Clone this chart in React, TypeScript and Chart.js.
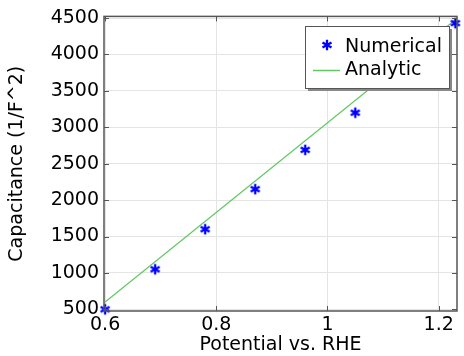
import React, { useEffect, useRef } from "react";
import { Chart, registerables } from "chart.js";

Chart.register(...registerables);

const numericalX = [0.6, 0.69, 0.78, 0.87, 0.96, 1.05, 1.23];
const numericalY = [500, 1050, 1600, 2150, 2690, 3200, 4430];
const analyticX = [0.6, 1.23];
const analyticY = [600, 4476];
const xTicks = [0.6, 0.8, 1.0, 1.2];
const yTicks = [500, 1000, 1500, 2000, 2500, 3000, 3500, 4000, 4500];
const seriesNames = ["Numerical", "Analytic"];
const xTitle = "Potential vs. RHE";
const yTitle = "Capacitance (1/F^2)";

const FONT = "'DejaVu Sans', sans-serif";
const BLUE = "#0000ff";
const GREEN = "#62c862";

function drawAsterisk(ctx: CanvasRenderingContext2D, cx: number, cy: number, r: number) {
  ctx.beginPath();
  for (let i = 0; i < 3; i++) {
    const ang = Math.PI / 2 + (i * Math.PI) / 3;
    ctx.moveTo(cx - r * Math.cos(ang), cy - r * Math.sin(ang));
    ctx.lineTo(cx + r * Math.cos(ang), cy + r * Math.sin(ang));
  }
  ctx.stroke();
}

function makeAsteriskImage() {
  const c = document.createElement("canvas");
  c.width = 14;
  c.height = 14;
  const ctx = c.getContext("2d")!;
  ctx.strokeStyle = BLUE;
  ctx.lineWidth = 2.3;
  ctx.lineCap = "butt";
  drawAsterisk(ctx, 7, 7, 5.2);
  return c;
}

const framePlugin = {
  id: "frameAndLegend",
  afterDraw(chart: any) {
    const { ctx, chartArea: a, scales } = chart;
    ctx.save();
    ctx.strokeStyle = "#555555";
    ctx.lineWidth = 1.5;
    ctx.strokeRect(a.left, a.top, a.right - a.left, a.bottom - a.top);
    ctx.lineWidth = 1;
    ctx.beginPath();
    for (const v of xTicks) {
      const px = Math.round(scales.x.getPixelForValue(v)) + 0.5;
      ctx.moveTo(px, a.bottom);
      ctx.lineTo(px, a.bottom - 5);
      ctx.moveTo(px, a.top);
      ctx.lineTo(px, a.top + 5);
    }
    for (const v of yTicks) {
      const py = Math.round(scales.y.getPixelForValue(v)) + 0.5;
      ctx.moveTo(a.left, py);
      ctx.lineTo(a.left + 5, py);
      ctx.moveTo(a.right, py);
      ctx.lineTo(a.right - 5, py);
    }
    ctx.stroke();

    // legend
    const bx = 305, by = 26, bw = 144, bh = 62;
    ctx.fillStyle = "#888888";
    ctx.fillRect(bx + 3, by + 3, bw, bh);
    ctx.fillStyle = "#ffffff";
    ctx.fillRect(bx, by, bw, bh);
    ctx.strokeStyle = "#555555";
    ctx.lineWidth = 1;
    ctx.strokeRect(bx + 0.5, by + 0.5, bw, bh);

    ctx.strokeStyle = BLUE;
    ctx.lineWidth = 2.3;
    drawAsterisk(ctx, 327, 45, 5.2);

    ctx.strokeStyle = GREEN;
    ctx.lineWidth = 1.5;
    ctx.beginPath();
    ctx.moveTo(313, 70.5);
    ctx.lineTo(340, 70.5);
    ctx.stroke();

    ctx.fillStyle = "#000000";
    ctx.font = `19px ${FONT}`;
    ctx.textBaseline = "middle";
    ctx.textAlign = "left";
    ctx.fillText(seriesNames[0], 345, 47);
    ctx.fillText(seriesNames[1], 345, 70);
    ctx.restore();
  },
};

export default function App() {
  const ref = useRef<HTMLCanvasElement>(null);
  useEffect(() => {
    document.body.style.margin = "0";
    const star = makeAsteriskImage();
    const chart = new Chart(ref.current!, {
      type: "scatter",
      data: {
        datasets: [
          {
            label: seriesNames[1],
            data: analyticX.map((x, i) => ({ x, y: analyticY[i] })),
            showLine: true,
            borderColor: GREEN,
            backgroundColor: GREEN,
            borderWidth: 1.2,
            pointRadius: 0,
            order: 2,
          },
          {
            label: seriesNames[0],
            data: numericalX.map((x, i) => ({ x, y: numericalY[i] })),
            pointStyle: star as any,
            pointRadius: 6,
            borderColor: BLUE,
            backgroundColor: BLUE,
            clip: false as any,
            order: 1,
          },
        ],
      },
      options: {
        animation: false,
        responsive: false,
        maintainAspectRatio: false,
        layout: { padding: { left: 0, right: 2, top: 13, bottom: 0 } },
        plugins: { legend: { display: false }, tooltip: { enabled: false } },
        scales: {
          x: {
            type: "linear",
            min: 0.598,
            max: 1.233,
            afterBuildTicks: (s: any) => {
              s.ticks = xTicks.map((v) => ({ value: v }));
            },
            afterFit: (s: any) => {
              s.height = 45;
            },
            grid: { color: "#e4e4e4", drawTicks: false, lineWidth: 1 },
            border: { display: false },
            ticks: {
              padding: 3,
              color: "#000",
              font: { family: FONT, size: 19 },
              callback: (v: any) => String(Number(v)),
              maxRotation: 0,
            },
            title: {
              display: true,
              text: xTitle,
              color: "#000",
              font: { family: FONT, size: 19 },
              padding: { top: -5, bottom: 0 },
            },
          },
          y: {
            type: "linear",
            min: 477,
            max: 4523,
            afterBuildTicks: (s: any) => {
              s.ticks = yTicks.map((v) => ({ value: v }));
            },
            afterFit: (s: any) => {
              s.width = 104;
            },
            grid: { color: "#e4e4e4", drawTicks: false, lineWidth: 1 },
            border: { display: false },
            ticks: {
              padding: 5,
              color: "#000",
              font: { family: FONT, size: 19 },
              callback: (v: any) => String(v),
            },
            title: {
              display: true,
              text: yTitle,
              color: "#000",
              font: { family: FONT, size: 19 },
              padding: { top: 6, bottom: 0 },
            },
          },
        },
      },
      plugins: [framePlugin],
    });
    return () => chart.destroy();
  }, []);
  return (
    <div style={{ width: 464, height: 356, background: "#fff" }}>
      <canvas ref={ref} width={464} height={356} style={{ display: "block" }} />
    </div>
  );
}
